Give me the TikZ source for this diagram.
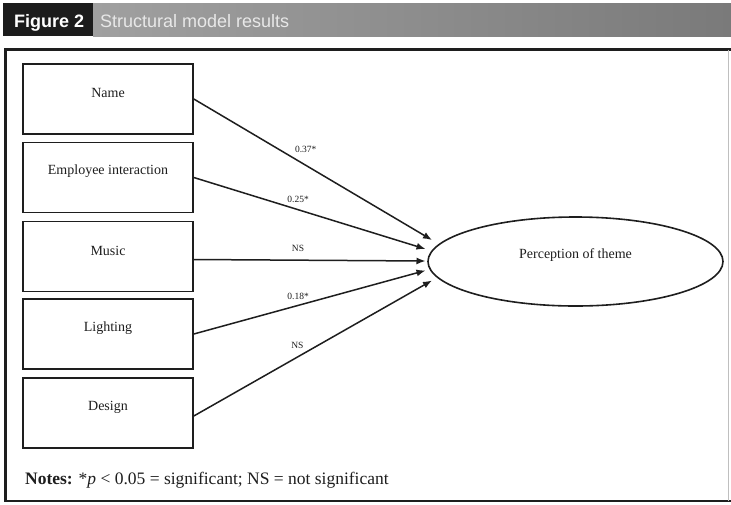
\documentclass[tikz,border=0pt]{standalone}
\usepackage{fontspec}
\setmainfont{Liberation Serif}
\newfontfamily\headfont{Liberation Sans}
\usetikzlibrary{arrows.meta,shapes.geometric}
\definecolor{headdark}{HTML}{1C1C1C}
\definecolor{headgrayL}{HTML}{A0A0A0}
\definecolor{headgrayR}{HTML}{7A7A7A}
\definecolor{headtext}{HTML}{E8E8E8}
\definecolor{ink}{HTML}{1E1E1E}
\begin{document}
\begin{tikzpicture}[x=1pt,y=-1pt,
  var/.style={draw=ink,line width=1.6pt,minimum width=170pt,minimum height=70pt,inner sep=0pt},
  vartext/.style={font=\fontsize{14}{16}\selectfont,text=ink},
  latent/.style={draw=ink,line width=1.6pt,ellipse,minimum width=295pt,minimum height=89pt,inner sep=0pt},
  path/.style={draw=ink,line width=1.5pt,-{Latex[length=9pt,width=7pt]}},
  coef/.style={font=\fontsize{9.5}{11}\selectfont,text=ink,inner sep=0pt},
  headfig/.style={font=\headfont\bfseries\fontsize{18}{20}\selectfont,text=white,anchor=base west,inner sep=0pt},
  headtitle/.style={font=\headfont\fontsize{18}{20}\selectfont,text=headtext,anchor=base west,inner sep=0pt}
]
\useasboundingbox (0,0) rectangle (731,504);
\fill[white] (0,0) rectangle (731,504);

% caption bar
\shade[left color=headgrayL,right color=headgrayR] (93,3) rectangle (731,36);
\fill[headdark] (3,3) rectangle (93,36);
\node[headfig] (fig) at (14,27) {Figure 2};
\node[headtitle] (title) at (100,27) {Structural model results};

% figure frame
\draw[ink,line width=2.2pt] (731,49.5) -- (5.5,49.5) -- (5.5,501) -- (731,501);
\draw[black!25,line width=0.8pt] (728,49.5) -- (728,501);

% observed constructs
\node[var,label={[vartext,yshift=6pt]center:Name}] (name) at (108,99) {};
\node[var,label={[vartext,yshift=6pt]center:Employee interaction}] (empl) at (108,177.5) {};
\node[var,label={[vartext,yshift=6pt]center:Music}] (music) at (108,256.5) {};
\node[var,label={[vartext,yshift=6pt]center:Lighting}] (light) at (108,334) {};
\node[var,label={[vartext,yshift=6pt]center:Design}] (design) at (108,413) {};

% outcome construct
\node[latent,label={[vartext,yshift=6pt]center:Perception of theme}] (theme) at (575.5,261.5) {};

% arrow tips around the left of the ellipse
\coordinate (t1) at (432,240);
\coordinate (t2) at (425.5,249);
\coordinate (t3) at (425.5,261);
\coordinate (t4) at (425.5,270.5);
\coordinate (t5) at (432,280.5);

% structural paths
\draw[path] (name.east) -- node[coef,pos=0.47,above=12pt] {0.37*} (t1);
\draw[path] (empl.east) -- node[coef,pos=0.45,above=6.5pt] {0.25*} (t2);
\draw[path] ([yshift=-3pt]music.east) -- node[coef,pos=0.45,above=7.5pt] {NS} (t3);
\draw[path] (light.east) -- node[coef,pos=0.45,above=5.5pt] {0.18*} (t4);
\draw[path] ([yshift=-3pt]design.east) -- node[coef,pos=0.435,above=7.5pt] {NS} (t5);

% notes
\node[anchor=base west,inner sep=0pt,font=\fontsize{17.5}{20}\selectfont,text=ink] (notes) at (25,484)
  {\textbf{Notes:} *\textit{p} < 0.05 = significant; NS = not significant};
\end{tikzpicture}
\end{document}
